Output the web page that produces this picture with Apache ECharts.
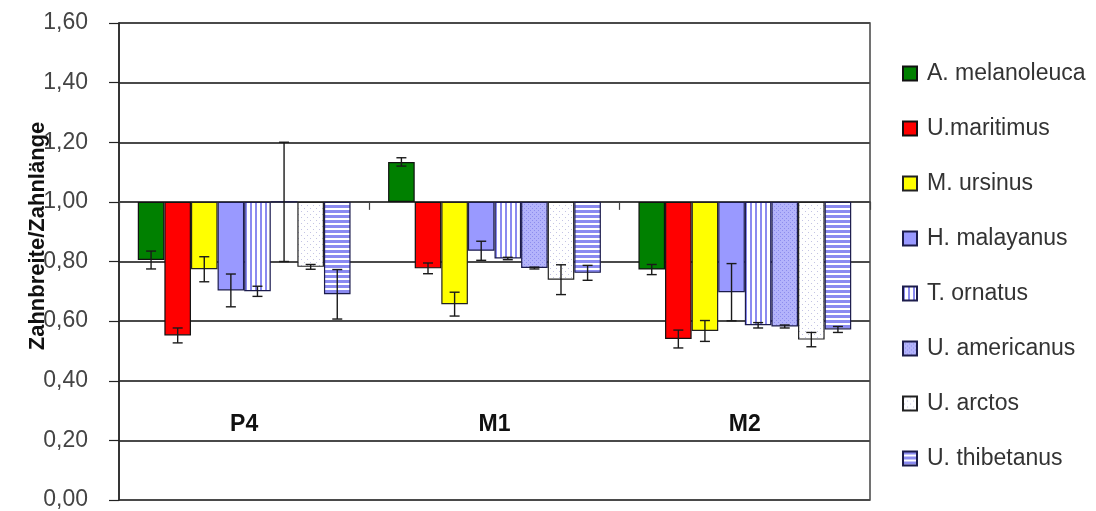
<!DOCTYPE html>
<html>
<head>
<meta charset="utf-8">
<style>
  html, body { margin: 0; padding: 0; background: #fff; }
  #chart { width: 1096px; height: 511px; }
</style>
<script src="https://cdn.jsdelivr.net/npm/echarts@6/dist/echarts.min.js"></script>
</head>
<body>
<div id="chart"></div>
<script>
// Tooth index (width / length) per tooth position, bars hang from the 1,00 line.
const categories = ['P4', 'M1', 'M2'];
const speciesNames = ['A. melanoleuca', 'U.maritimus', 'M. ursinus', 'H. malayanus',
                      'T. ornatus', 'U. americanus', 'U. arctos', 'U. thibetanus'];

// mean ratio per species for P4, M1, M2
const melanoleuca = [0.805, 1.134, 0.773];
const maritimus   = [0.552, 0.777, 0.540];
const ursinus     = [0.774, 0.657, 0.567];
const malayanus   = [0.703, 0.836, 0.697];
const ornatus     = [0.700, 0.810, 0.586];
const americanus  = [1.000, 0.778, 0.582];
const arctos      = [0.782, 0.739, 0.538];
const thibetanus  = [0.690, 0.762, 0.572];

// standard deviation (error bar half-length) per species for P4, M1, M2
const melanoleucaErr = [0.030, 0.014, 0.017];
const maritimusErr   = [0.025, 0.018, 0.030];
const ursinusErr     = [0.042, 0.040, 0.035];
const malayanusErr   = [0.055, 0.032, 0.096];
const ornatusErr     = [0.017, 0.004, 0.009];
const americanusErr  = [0.200, 0.003, 0.005];
const arctosErr      = [0.008, 0.050, 0.024];
const thibetanusErr  = [0.083, 0.025, 0.010];

const yTickLabels = ['0,00', '0,20', '0,40', '0,60', '0,80', '1,00', '1,20', '1,40', '1,60'];
const baseline = 1.0;

const means = [melanoleuca, maritimus, ursinus, malayanus, ornatus, americanus, arctos, thibetanus];
const errs = [melanoleucaErr, maritimusErr, ursinusErr, malayanusErr, ornatusErr, americanusErr, arctosErr, thibetanusErr];

// ---- fill patterns ----
function makePattern(w, h, draw) {
  const c = document.createElement('canvas');
  c.width = w; c.height = h;
  const ctx = c.getContext('2d');
  draw(ctx, w, h);
  return { image: c, repeat: 'repeat' };
}
const vStripes = makePattern(5, 5, (ctx, w, h) => {
  ctx.fillStyle = '#ffffff'; ctx.fillRect(0, 0, w, h);
  ctx.fillStyle = '#8a8af0'; ctx.fillRect(0, 0, 2, h);
});
const blueDots = makePattern(4, 4, (ctx, w, h) => {
  ctx.fillStyle = '#b3b3fb'; ctx.fillRect(0, 0, w, h);
  ctx.fillStyle = '#8c8cee'; ctx.fillRect(0, 0, 1, 1); ctx.fillRect(2, 2, 1, 1);
});
const sparseDots = makePattern(6, 6, (ctx, w, h) => {
  ctx.fillStyle = '#ffffff'; ctx.fillRect(0, 0, w, h);
  ctx.fillStyle = '#c4c4e4'; ctx.fillRect(1, 1, 1, 1); ctx.fillRect(4, 4, 1, 1);
});
const hStripes = makePattern(5, 5, (ctx, w, h) => {
  ctx.fillStyle = '#ffffff'; ctx.fillRect(0, 0, w, h);
  ctx.fillStyle = '#8a8af0'; ctx.fillRect(0, 0, w, 3);
});

const fills = ['#008000', '#ff0000', '#ffff00', '#9999ff', vStripes, blueDots, sparseDots, hStripes];
const borders = ['#111111', '#111111', '#222222', '#1c1c4c', '#1c1c4c', '#1c1c4c', '#222222', '#1c1c4c'];

const FONT = '"Liberation Sans", Arial, sans-serif';
const CAT_GAP = 0.15;

const barSeries = speciesNames.map((name, s) => ({
  name: name,
  type: 'bar',
  xAxisIndex: 0,
  barGap: '0%',
  barCategoryGap: (CAT_GAP * 100) + '%',
  data: means[s].map(v => +(v - baseline).toFixed(4)),
  itemStyle: { color: fills[s], borderColor: borders[s], borderWidth: 1.2 },
  emphasis: { disabled: true }
}));

// error bars as one custom series: [category index, mean - baseline, sd, species index]
const errData = [];
means.forEach((arr, s) => arr.forEach((v, c) => {
  errData.push([c, +(v - baseline).toFixed(4), errs[s][c], s]);
}));

const errorSeries = {
  type: 'custom',
  xAxisIndex: 0,
  data: errData,
  encode: { x: 0, y: 1 },
  z: 10,
  silent: true,
  renderItem: function (params, api) {
    const cat = api.value(0), v = api.value(1), e = api.value(2), s = api.value(3);
    const band = api.size([1, 0])[0];
    const bw = band * (1 - CAT_GAP) / speciesNames.length;
    const cx = api.coord([cat, 0])[0] + (s - (speciesNames.length - 1) / 2) * bw;
    const yTop = api.coord([cat, v + e])[1];
    const yBot = api.coord([cat, v - e])[1];
    const cap = 5;
    const st = { stroke: '#1a1a1a', lineWidth: 1.4 };
    return {
      type: 'group',
      children: [
        { type: 'line', shape: { x1: cx, y1: yTop, x2: cx, y2: yBot }, style: st },
        { type: 'line', shape: { x1: cx - cap, y1: yTop, x2: cx + cap, y2: yTop }, style: st },
        { type: 'line', shape: { x1: cx - cap, y1: yBot, x2: cx + cap, y2: yBot }, style: st }
      ]
    };
  }
};

const chart = echarts.init(document.getElementById('chart'), null, { renderer: 'canvas' });
chart.setOption({
  animation: false,
  backgroundColor: '#ffffff',
  grid: {
    left: 119, right: 226, top: 23, bottom: 11,
    containLabel: false,
    outerBoundsMode: 'none',
    show: true, borderColor: '#444444', borderWidth: 1.5, backgroundColor: 'transparent'
  },
  legend: {
    data: speciesNames,
    orient: 'vertical',
    left: 902, top: 62,
    itemWidth: 14, itemHeight: 14, itemGap: 32,
    icon: 'rect',
    selectedMode: false,
    padding: 0,
    textStyle: { fontFamily: FONT, fontSize: 23, color: '#333333', padding: [0, 0, 0, 5] }
  },
  xAxis: [{
    // category axis crossing the value axis at 1,00
    type: 'category',
    data: categories,
    axisLine: { onZero: true, lineStyle: { color: '#444444', width: 1.8 } },
    axisTick: { show: true, alignWithLabel: false, interval: 0, length: 8, lineStyle: { color: '#444444', width: 1.2 } },
    axisLabel: { show: false },
    splitLine: { show: false }
  }, {
    // tooth position names, placed in the lower part of the plot
    type: 'category',
    data: categories,
    position: 'bottom',
    offset: -87,
    axisLine: { show: false, onZero: false },
    axisTick: { show: false },
    axisLabel: { show: true, margin: 0, fontFamily: FONT, fontSize: 23, fontWeight: 'bold', color: '#111111' },
    splitLine: { show: false }
  }],
  yAxis: {
    type: 'value',
    min: -1.0, max: 0.6, interval: 0.2,
    axisLine: { show: true, lineStyle: { color: '#222222', width: 1.5 } },
    axisTick: { show: true, inside: false, length: 10, lineStyle: { color: '#222222', width: 1.2 } },
    axisLabel: {
      margin: 31, fontFamily: FONT, fontSize: 23, color: '#444444',
      formatter: function (v) {
        const idx = Math.round((v + baseline) / 0.2);
        return yTickLabels[idx];
      }
    },
    splitLine: { show: true, lineStyle: { color: '#4a4a4a', width: 1.8 } }
  },
  graphic: [{
    type: 'text',
    x: 38, y: 236,
    rotation: Math.PI / 2,
    style: {
      text: 'Zahnbreite/Zahnlänge',
      font: 'bold 22px ' + FONT,
      fill: '#111111',
      textAlign: 'center',
      textVerticalAlign: 'middle'
    }
  }],
  series: barSeries.concat([errorSeries])
});
</script>
</body>
</html>
